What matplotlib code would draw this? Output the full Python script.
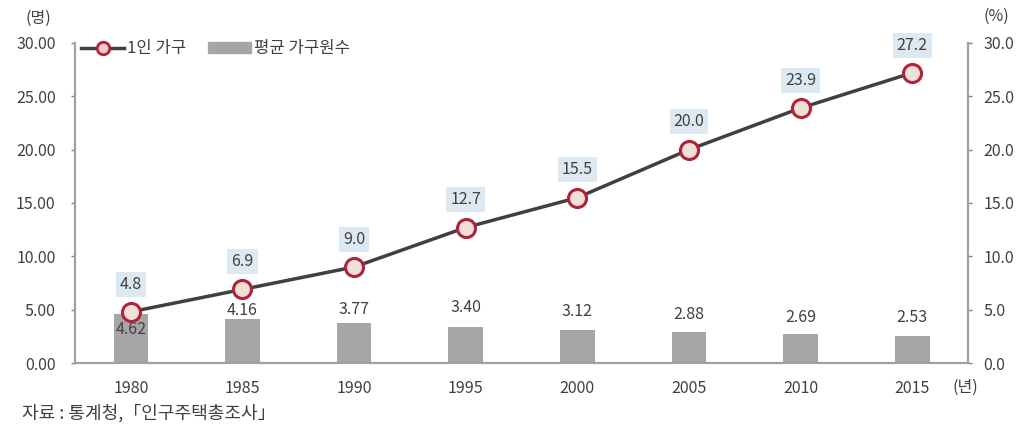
import matplotlib
matplotlib.use("Agg")
import matplotlib.pyplot as plt
from matplotlib.patches import Patch
from matplotlib.lines import Line2D

plt.rcParams['font.family'] = ['Noto Sans CJK KR', 'DejaVu Sans']

years = ['1980', '1985', '1990', '1995', '2000', '2005', '2010', '2015']
avg_members = [4.62, 4.16, 3.77, 3.40, 3.12, 2.88, 2.69, 2.53]
single_pct = [4.8, 6.9, 9.0, 12.7, 15.5, 20.0, 23.9, 27.2]

# label placement offsets (data units, relative to bar top)
bar_label_offsets = [-1.5, 0.8, 1.2, 1.8, 1.7, 1.7, 1.6, 1.7]

txt = '#404040'
fs = 11.5
fig = plt.figure(figsize=(10.25, 4.32), dpi=100)
ax = fig.add_axes([0.0732, 0.1597, 0.8712, 0.7408])
ax2 = ax.twinx()

x = list(range(len(years)))
ax.bar(x, avg_members, width=0.31, color='#a6a6a6', zorder=2)
ax.set_xlim(-0.5, len(years) - 0.5)
ax.set_ylim(0, 30)
ax.set_yticks([0, 5, 10, 15, 20, 25, 30])
ax.set_yticklabels([f'{v:.2f}' for v in [0, 5, 10, 15, 20, 25, 30]])
ax.set_xticks(x)
ax.set_xticklabels(years)

ax2.plot(x, single_pct, color='#404040', lw=2.5, marker='o', ms=13,
         mfc='#efe0d8', mec='#b0243a', mew=2.2, zorder=5)
ax2.set_ylim(0, 30)
ax2.set_yticks([0, 5, 10, 15, 20, 25, 30])
ax2.set_yticklabels([f'{v:.1f}' for v in [0, 5, 10, 15, 20, 25, 30]])

for a in (ax, ax2):
    a.spines['top'].set_visible(False)
    for s in ('left', 'right', 'bottom'):
        a.spines[s].set_color('#a0a0a0')
        a.spines[s].set_linewidth(1.5)
    a.tick_params(colors='#808080', labelcolor=txt, labelsize=fs, length=3, width=1)
ax.tick_params(axis='x', length=0, pad=12)
ax.tick_params(axis='y', pad=11)
ax2.tick_params(axis='y', pad=8)

# bar labels
for i, v in enumerate(avg_members):
    ax.text(i, v + bar_label_offsets[i], f'{v:.2f}', ha='center', va='center',
            fontsize=fs, color=txt, zorder=6)

# line labels
for i, v in enumerate(single_pct):
    ax2.text(i, v + 2.6, f'{v:.1f}', ha='center', va='center', fontsize=fs, color=txt,
             bbox=dict(boxstyle='square,pad=0.25', fc='#dce9f2', ec='none'), zorder=6)

handles = [Line2D([], [], color='#404040', lw=2.5, marker='o', ms=9, mfc='#f4c8c8',
                  mec='#b0243a', mew=2),
           Patch(color='#a6a6a6')]
leg = ax2.legend(handles, ['1인 가구', '평균 가구원수'], loc='upper left',
                 bbox_to_anchor=(-0.01, 1.055), ncol=2, frameon=False, fontsize=12,
                 handlelength=2.6, handleheight=0.6, columnspacing=1.3, handletextpad=0.15,
                 labelcolor=txt)

fig.text(0.037, 0.958, '(명)', ha='center', va='center', fontsize=fs, color=txt)
fig.text(0.972, 0.962, '(%)', ha='center', va='center', fontsize=fs, color=txt)
fig.text(0.929, 0.104, '(년)', ha='left', va='center', fontsize=fs, color=txt)
fig.text(0.021, 0.044, '자료 : 통계청,「인구주택총조사」', ha='left', va='center', fontsize=13, color=txt)

fig.savefig('out.png', dpi=100)
